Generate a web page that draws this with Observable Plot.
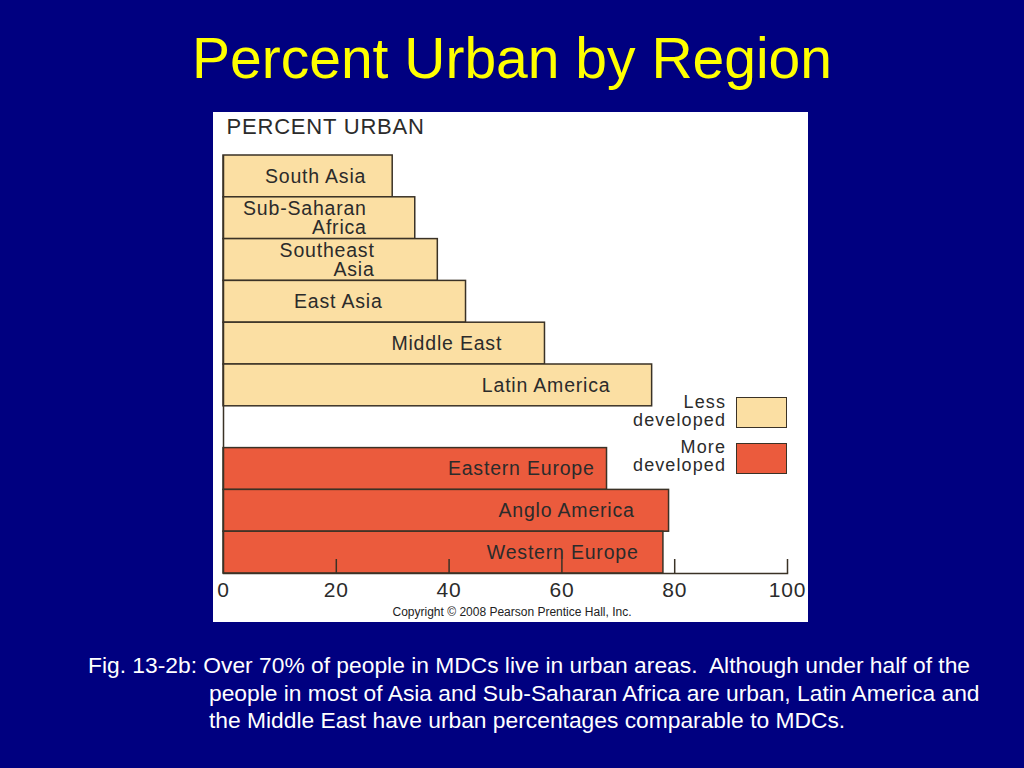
<!DOCTYPE html>
<html>
<head>
<meta charset="utf-8">
<script src="https://cdn.jsdelivr.net/npm/d3@7"></script>
<script src="https://cdn.jsdelivr.net/npm/@observablehq/plot@0.6"></script>
<style>
  html, body { margin: 0; padding: 0; }
  body { width: 1024px; height: 768px; background: #000080; position: relative; overflow: hidden; font-family: "Liberation Sans", Arial, Helvetica, sans-serif; }
  #title { position: absolute; left: 0; width: 1024px; top: 30px; text-align: center; color: #ffff00; font-size: 57px; line-height: 57px; white-space: nowrap; }
  #panel { position: absolute; left: 213px; top: 112px; width: 595px; height: 510px; background: #ffffff; }
  #caption { position: absolute; left: 209px; top: 652px; color: #ffffff; font-size: 22.8px; line-height: 27.5px; text-indent: -121px; white-space: nowrap; }
  .lg-text { position: absolute; left: 560px; width: 166px; text-align: right; font-size: 18px; line-height: 18px; letter-spacing: 1.1px; color: #2b2b2b; white-space: nowrap; }
  .lg-box { position: absolute; left: 736px; width: 51px; height: 31px; box-sizing: border-box; border: 1.5px solid #3a3226; }
</style>
</head>
<body>
<div id="title">Percent Urban by Region</div>
<div id="panel"></div>
<div id="legend"></div>
<div id="caption">Fig. 13-2b: Over 70% of people in MDCs live in urban areas.&nbsp; Although under half of the<br>people in most of Asia and Sub-Saharan Africa are urban, Latin America and<br>the Middle East have urban percentages comparable to MDCs.</div>
<script>
// ---------------- DATA ----------------
const lessRegions = ["South Asia", "Sub-Saharan Africa", "Southeast Asia", "East Asia", "Middle East", "Latin America"];
const lessLabels  = ["South Asia", "Sub-Saharan\nAfrica", "Southeast\nAsia", "East Asia", "Middle East", "Latin America"];
const lessValues  = [30, 34, 38, 43, 57, 76];
const moreRegions = ["Eastern Europe", "Anglo America", "Western Europe"];
const moreLabels  = ["Eastern Europe", "Anglo America", "Western Europe"];
const moreValues  = [68, 79, 78];
const groups      = ["Less developed", "More developed"];
const groupLegend = ["Less\ndeveloped", "More\ndeveloped"];
const xTicks      = [0, 20, 40, 60, 80, 100];
const axisTitle   = "PERCENT URBAN";
const copyright   = "Copyright \u00A9 2008 Pearson Prentice Hall, Inc.";

// ---------------- LAYOUT / STYLE ----------------
const colors = ["#fbdfa3", "#eb5b3d"];
const ink = "#2b2b2b";
const edge = "#3a3226";
const GAP = "\u2007gap";
// right end of each in-bar label, in percent units (as placed in the original figure)
const labelEnd = {
  "South Asia": 25.3, "Sub-Saharan Africa": 25.4, "Southeast Asia": 26.8, "East Asia": 28.2,
  "Middle East": 49.4, "Latin America": 68.6,
  "Eastern Europe": 65.8, "Anglo America": 72.9, "Western Europe": 73.6
};

const rows = [
  ...lessRegions.map((r, i) => ({region: r, label: lessLabels[i], value: lessValues[i], group: groups[0]})),
  ...moreRegions.map((r, i) => ({region: r, label: moreLabels[i], value: moreValues[i], group: groups[1]}))
];
const yDomain = [...lessRegions, GAP, ...moreRegions];

const W = 595, H = 510, mT = 43, mB = 49, mL = 10, mR = 21;
const bandwidth = (H - mT - mB) / yDomain.length;
const tickLen = 14;

const chart = Plot.plot({
  width: W,
  height: H,
  marginTop: mT,
  marginBottom: mB,
  marginLeft: mL,
  marginRight: mR,
  style: {background: "#ffffff", fontFamily: "'Liberation Sans', Arial, Helvetica, sans-serif", letterSpacing: "0.8px", overflow: "visible"},
  x: {domain: [0, 100], axis: null},
  y: {domain: yDomain, padding: 0, round: false, axis: null},
  color: {domain: groups, range: colors},
  marks: [
    Plot.barX(rows, {x: "value", y: "region", fill: "group", stroke: edge, strokeWidth: 1.5}),
    Plot.ruleX([0], {stroke: edge, strokeWidth: 1.5}),
    Plot.frame({anchor: "bottom", stroke: edge, strokeWidth: 1.5}),
    Plot.tickX(xTicks.filter(d => d > 0), {x: d => d, y: () => moreRegions[moreRegions.length - 1], insetTop: bandwidth - tickLen, stroke: edge, strokeWidth: 1.5}),
    Plot.text(rows, {x: d => labelEnd[d.region], y: "region", text: "label", textAnchor: "end", lineHeight: 1, fontSize: 19.5, fill: ink}),
    Plot.text(xTicks, {x: d => d, text: d => String(d), frameAnchor: "bottom", lineAnchor: "middle", dy: 16.5, fontSize: 21, fill: ink}),
    Plot.text([axisTitle], {text: d => d, frameAnchor: "top-left", textAnchor: "start", lineAnchor: "middle", dx: 3, dy: -28.7, fontSize: 22, fill: ink}),
    Plot.text([copyright], {text: d => d, frameAnchor: "bottom", lineAnchor: "middle", dx: 6.5, dy: 38.6, fontSize: 12, fill: "#222222"})
  ]
});
chart.querySelectorAll("text").forEach(t => { if (t.textContent === copyright) t.setAttribute("letter-spacing", "0"); });
document.getElementById("panel").appendChild(chart);

// legend (HTML, beside the bars)
const legend = document.getElementById("legend");
const legendTops = [392.5, 438];
const boxTops = [397, 443];
groups.forEach((g, i) => {
  const t = document.createElement("div");
  t.className = "lg-text";
  t.style.top = legendTops[i] + "px";
  t.innerHTML = groupLegend[i].split("\n").join("<br>");
  legend.appendChild(t);
  const b = document.createElement("div");
  b.className = "lg-box";
  b.style.top = boxTops[i] + "px";
  b.style.background = colors[i];
  legend.appendChild(b);
});
</script>
</body>
</html>
